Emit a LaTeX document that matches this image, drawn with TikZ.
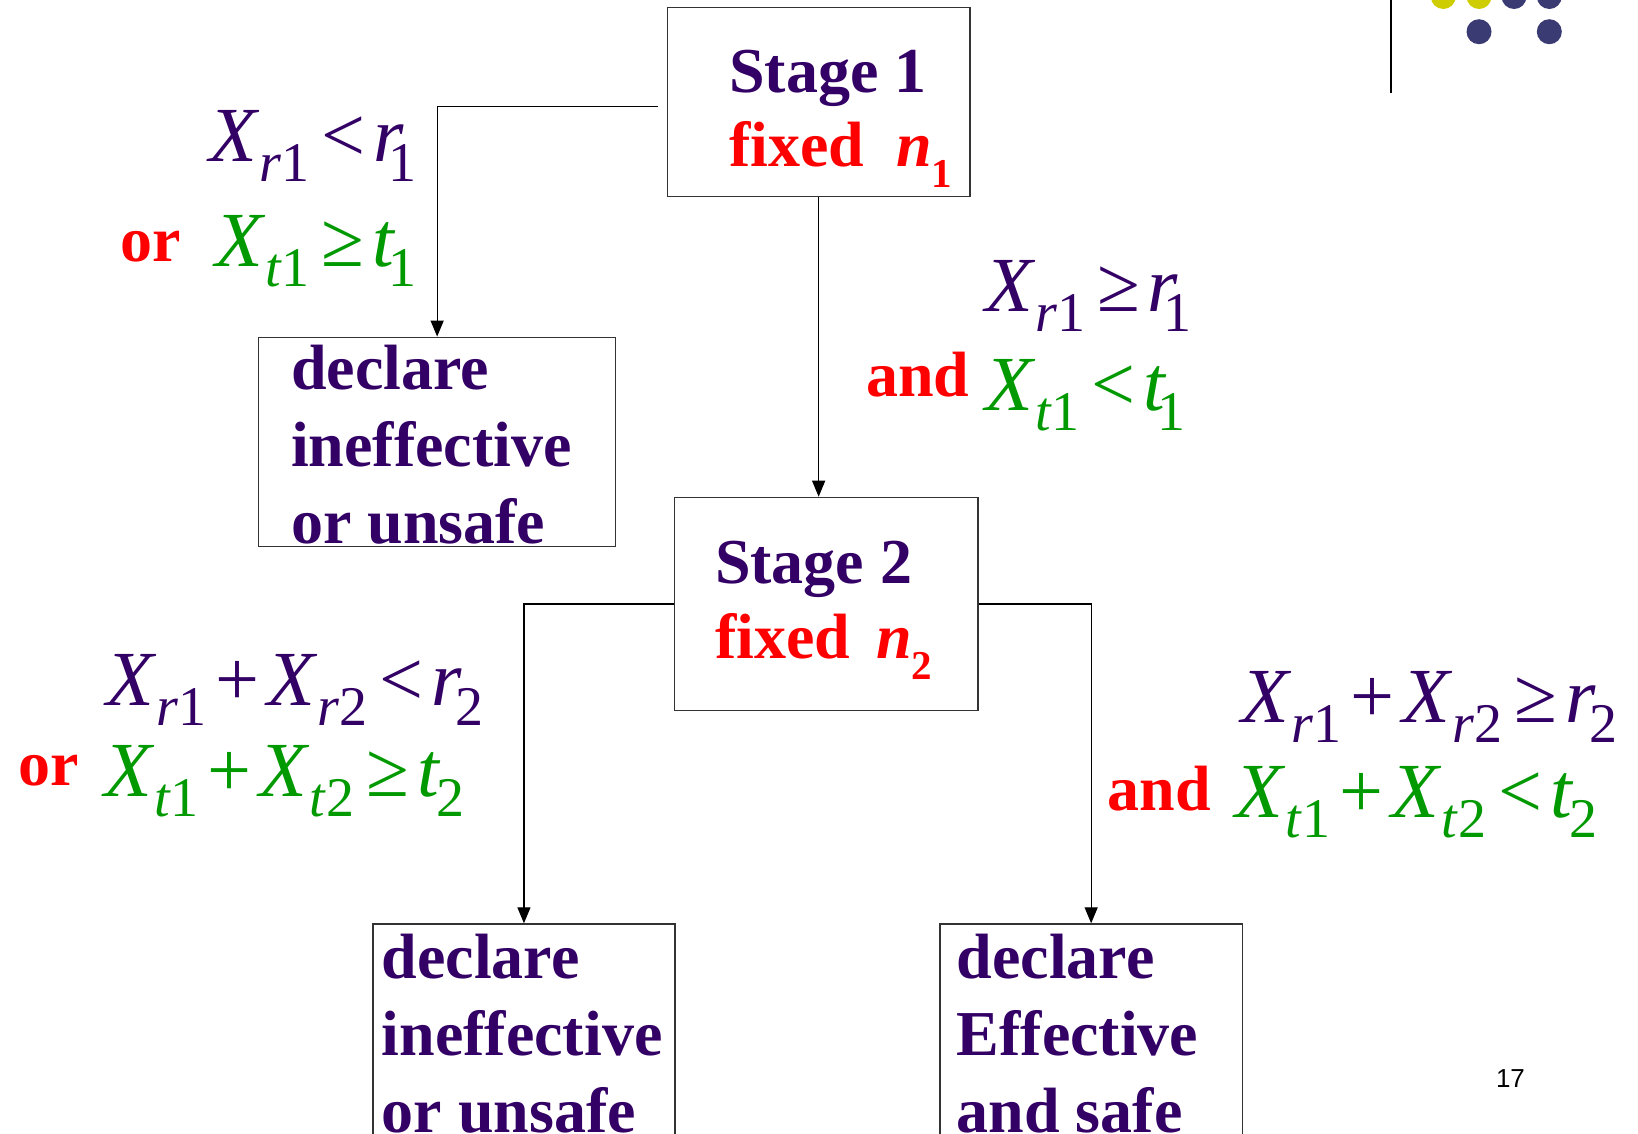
\documentclass[tikz,border=0pt]{standalone}
\usepackage{fontspec}
\setmainfont{Liberation Serif}
\newfontfamily\pagefont{Liberation Sans}
\usetikzlibrary{arrows.meta}
\definecolor{ink}{HTML}{330066}
\definecolor{grn}{HTML}{009900}
\definecolor{dotY}{RGB}{205,205,0}
\definecolor{dotB}{RGB}{59,59,116}
\newcommand\Xv{\textit{X}}
\newcommand\sbx[1]{\raisebox{-20pt}{\fontsize{56pt}{56pt}\selectfont #1}}
\newcommand\rl[1]{\hspace{12pt}#1\hspace{8pt}}
\newcommand\bn[1]{\hspace{9pt}#1\hspace{8pt}}
\newcommand\nsub[1]{\raisebox{-21pt}{\fontsize{41pt}{41pt}\selectfont #1}}
\tikzset{
  box/.style={draw=black!80, line width=1.3pt, rectangle, inner sep=0pt, anchor=north west},
  lbl/.style={inner sep=0pt, outer sep=0pt, anchor=base west},
  conn/.style={draw=black, line width=1.3pt},
  arr/.style={conn, -{Triangle[length=16pt,width=13pt]}},
  bold/.style={font=\fontsize{64pt}{77pt}\selectfont\bfseries},
  frm/.style={font=\fontsize{78pt}{78pt}\selectfont},
}
\begin{document}
\begin{tikzpicture}[x=1pt,y=-1pt]
\useasboundingbox (0,0) rectangle (1638,1133);
\clip (0,0) rectangle (1638,1133);
% boxes
\node[box, minimum width=302.6pt, minimum height=189.3pt] (s1) at (666.7,6.7) {};
\node[box, minimum width=357pt, minimum height=209.4pt] (d1) at (258,336.6) {};
\node[box, minimum width=303.3pt, minimum height=213.3pt] (s2) at (674,496.7) {};
\node[box, minimum width=302pt, minimum height=240pt] (d2) at (372.3,923.3) {};
\node[box, minimum width=302.4pt, minimum height=240pt] (d3) at (939.3,923.3) {};
% box texts
\node[lbl, bold, text=ink] (s1a) at (729.3,92.7) {Stage 1};
\node[lbl, bold, text=red] (s1b) at (729.3,166.7) {fixed\hspace{32pt}\textit{n}\nsub{1}};
\node[lbl, bold, text=ink] (s2a) at (715,583.3) {Stage 2};
\node[lbl, bold, text=red] (s2b) at (715,658.3) {fixed\hspace{26pt}\textit{n}\nsub{2}};
\node[lbl, bold, text=ink] (d1t) at (291,389) {\vtop{\hbox{declare}\hbox{ineffective}\hbox{or unsafe}}};
\node[lbl, bold, text=ink] (d2t) at (381.7,978.3) {\vtop{\hbox{declare}\hbox{ineffective}\hbox{or unsafe}}};
\node[lbl, bold, text=ink] (d3t) at (956.7,978.3) {\vtop{\hbox{declare}\hbox{Effective}\hbox{and safe}}};
% connectors
\coordinate (s1l) at (658,106.7);
\draw[arr] (s1l) -| (d1.north);
\draw[arr] (s1.south) -- (s1.south |- s2.north);
\draw[arr] (s2.west) -| (d2.north);
\draw[arr] (s2.east) -| (d3.north);
% conditions
\node[lbl, frm, text=ink] (fa1) at (209,161.7) {\Xv\sbx{\textit{r}1}\rl{<}\textit{r}\kern-15pt\sbx{1}};
\node[lbl, bold, text=red] (ora) at (120.7,261.7) {or};
\node[lbl, frm, text=grn] (fa2) at (215,266.7) {\Xv\sbx{\textit{t}1}\rl{≥}\textit{t}\kern-7pt\sbx{1}};
\node[lbl, frm, text=ink] (fb1) at (985,311.7) {\Xv\sbx{\textit{r}1}\rl{≥}\textit{r}\kern-15pt\sbx{1}};
\node[lbl, bold, text=red] (andb) at (866,396.7) {and};
\node[lbl, frm, text=grn] (fb2) at (985,410) {\Xv\sbx{\textit{t}1}\rl{<}\textit{t}\kern-10pt\sbx{1}};
\node[lbl, frm, text=ink] (fc1) at (106,705) {\Xv\sbx{\textit{r}1}\bn{+}\Xv\sbx{\textit{r}2}\rl{<}\textit{r}\kern-6pt\sbx{2}};
\node[lbl, bold, text=red] (orc) at (18.3,785) {or};
\node[lbl, frm, text=grn] (fc2) at (104,796.7) {\Xv\sbx{\textit{t}1}\bn{+}\Xv\sbx{\textit{t}2}\rl{≥}\textit{t}\kern-4pt\sbx{2}};
\node[lbl, frm, text=ink] (fd1) at (1241,722.4) {\Xv\sbx{\textit{r}1}\bn{+}\Xv\sbx{\textit{r}2}\rl{≥}\textit{r}\kern-6pt\sbx{2}};
\node[lbl, bold, text=red] (andd) at (1107.6,810.3) {and};
\node[lbl, frm, text=grn] (fd2) at (1235.5,817) {\Xv\sbx{\textit{t}1}\bn{+}\Xv\sbx{\textit{t}2}\rl{<}\textit{t}\kern-4pt\sbx{2}};
% page number
\node[lbl, font=\pagefont\fontsize{26pt}{26pt}\selectfont] (pg) at (1496,1087) {17};
% decoration
\draw[line width=2pt] (1391,0) -- (1391,92.7);
\fill[dotY] (1443.3,-3.5) circle[radius=12.5pt];
\fill[dotY] (1479,-3.5) circle[radius=12.5pt];
\fill[dotB] (1514,-3.5) circle[radius=12.5pt];
\fill[dotB] (1549.3,-3.5) circle[radius=12.5pt];
\fill[dotB] (1479,31.7) circle[radius=12.5pt];
\fill[dotB] (1549.3,31.7) circle[radius=12.5pt];
\end{tikzpicture}
\end{document}
